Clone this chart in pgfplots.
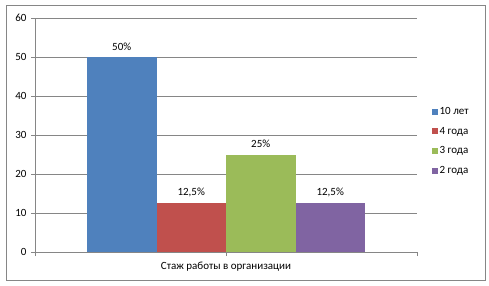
\documentclass[border=0pt]{standalone}
\usepackage{fontspec}
\setmainfont{Carlito}
\usepackage{pgfplots}
\pgfplotsset{compat=1.18}
\definecolor{cblue}{HTML}{4F81BD}
\definecolor{cred}{HTML}{C0504D}
\definecolor{cgreen}{HTML}{9BBB59}
\definecolor{cpurple}{HTML}{8064A2}
\definecolor{cgrid}{HTML}{868686}
\begin{document}
\begin{tikzpicture}[x=1pt,y=1pt]
\useasboundingbox (0,0) rectangle (489,285);
\draw[cgrid, line width=0.9pt] (6,5) rectangle (485,280);
\begin{axis}[
  at={(35pt,33pt)}, anchor=south west,
  scale only axis, width=382pt, height=234pt,
  xmin=-1, xmax=1, ymin=0, ymax=60,
  ytick={0,10,...,60},
  xtick={0}, xticklabels={Стаж работы в организации},
  extra x ticks={-1,1}, extra x tick labels={},
  extra x tick style={grid=none, major tick length=4pt},
  axis x line*=bottom, axis y line*=left,
  axis line style={cgrid, line width=0.8pt},
  every tick/.style={cgrid, line width=0.8pt},
  tick align=outside, major tick length=4pt,
  ymajorgrids, grid style={cgrid, line width=0.8pt},
  ybar=0pt, bar width=69.5pt,
  font=\fontsize{11}{13}\selectfont,
  tick label style={font=\fontsize{11}{13}\selectfont},
  /pgf/number format/assume math mode=true,
  xticklabel style={yshift=-2pt},
  yticklabel style={xshift=-1pt},
  nodes near coords, point meta=explicit symbolic,
  every node near coord/.append style={font=\fontsize{11}{13}\selectfont, yshift=3pt},
  legend style={at={(1.03,0.474)}, anchor=west, draw=none, fill=none,
    font=\fontsize{11}{13}\selectfont, row sep=7pt,
    /tikz/every even column/.append style={column sep=2pt}},
  legend cell align=left,
  legend image code/.code={\fill[#1] (0pt,-3pt) rectangle (6pt,3pt);},
]
\addplot[fill=cblue, draw=none] coordinates {(0,50) [50\%]};
\addplot[fill=cred, draw=none] coordinates {(0,12.5) [12,5\%]};
\addplot[fill=cgreen, draw=none] coordinates {(0,25) [25\%]};
\addplot[fill=cpurple, draw=none] coordinates {(0,12.5) [12,5\%]};
\legend{10 лет, 4 года, 3 года, 2 года}
\end{axis}
\end{tikzpicture}
\end{document}
